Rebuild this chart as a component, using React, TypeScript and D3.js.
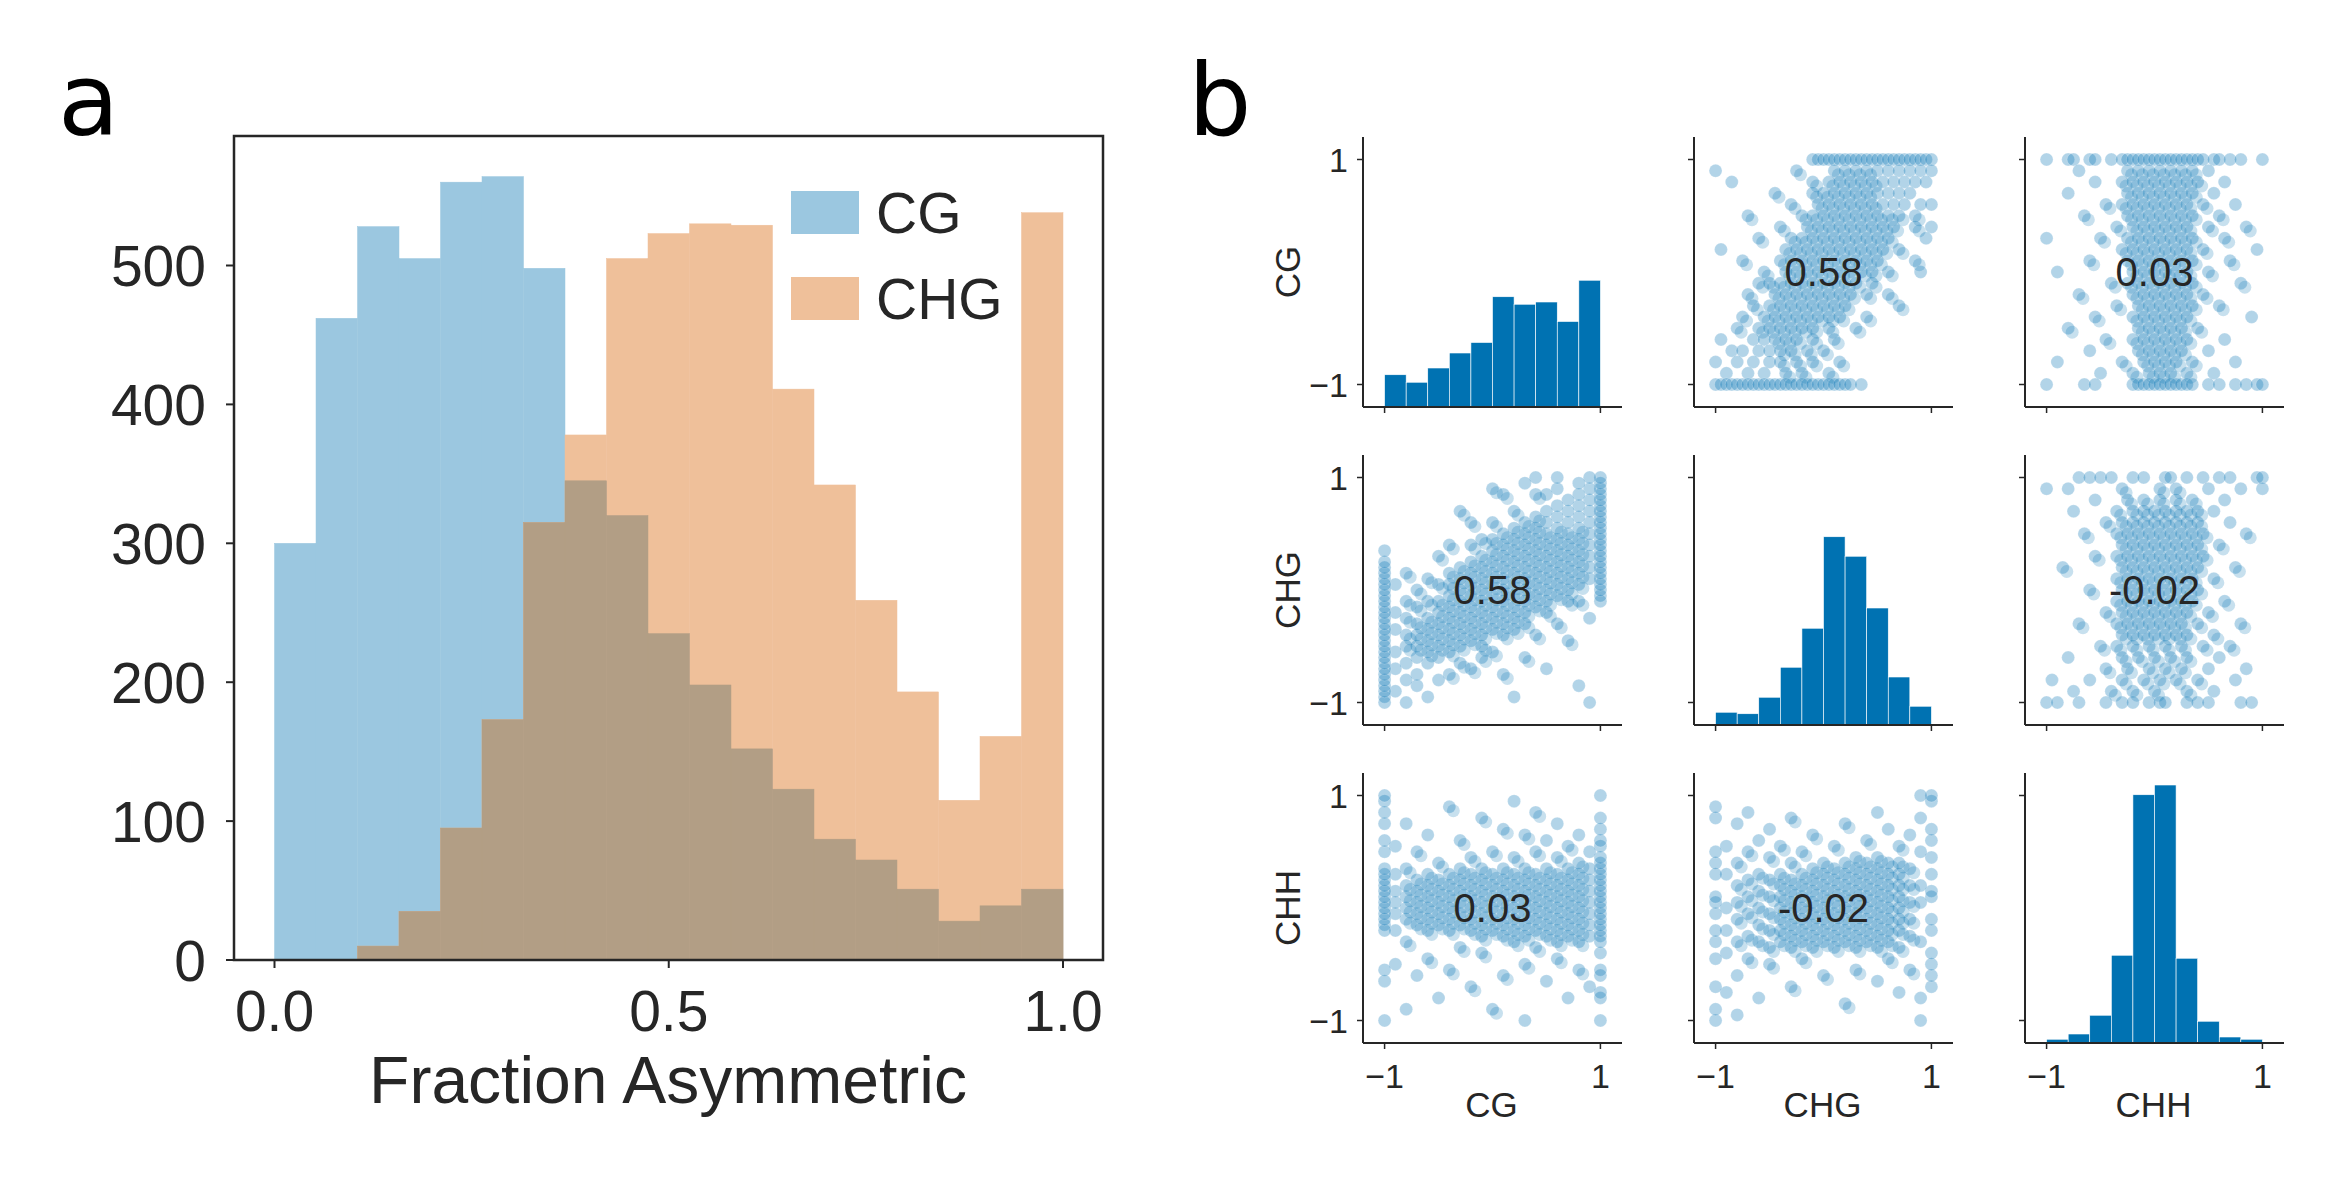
import React from "react";
import * as d3 from "d3";

// Panel a: 19 bins over [0,1]
const cgCounts = [300, 462, 528, 505, 560, 564, 498, 345, 320, 235, 198, 152, 123, 87, 72, 51, 28, 39, 51];
const chgCounts = [0, 0, 10, 35, 95, 173, 315, 378, 505, 523, 530, 529, 411, 342, 259, 193, 115, 161, 538];
const yTicksA = [0, 100, 200, 300, 400, 500];
const xTicksA = [0, 0.5, 1];

// Panel b diagonal histograms (10 bins over [-1,1]), relative counts
const diagCG = [43, 33, 52, 72, 86, 147, 137, 140, 114, 169];
const diagCHG = [17, 15, 37, 77, 129, 251, 225, 156, 64, 25];
const diagCHH = [5, 12, 37, 117, 331, 344, 113, 29, 8, 5];
const vars = ["CG", "CHG", "CHH"];
const corr = [["", "0.58", "0.03"], ["0.58", "", "-0.02"], ["0.03", "-0.02", ""]];

type Row = { y: number; xs: number[] };
// pair CHG (x) vs CG (y)
const pairChgCg: Row[] = [
  { y: 1, xs: [-0.1, -0.05, 0, 0.05, 0.1, 0.15, 0.2, 0.25, 0.3, 0.35, 0.4, 0.45, 0.5, 0.55, 0.6, 0.65, 0.7, 0.75, 0.8, 0.85, 0.9, 0.95, 1] },
  { y: 0.9, xs: [-1, -0.25, 0.1, 0.2, 0.3, 0.4, 0.5, 0.6, 0.7, 0.8, 0.9, 1] },
  { y: 0.8, xs: [-0.85, -0.1, 0.05, 0.15, 0.25, 0.35, 0.45, 0.55, 0.65, 0.75, 0.85, 0.95] },
  { y: 0.7, xs: [-0.45, -0.1, 0, 0.1, 0.2, 0.3, 0.4, 0.5, 0.6, 0.7, 0.8] },
  { y: 0.6, xs: [-0.3, -0.05, 0.05, 0.15, 0.25, 0.35, 0.45, 0.55, 0.65, 0.75, 0.9, 1] },
  { y: 0.5, xs: [-0.7, -0.2, -0.1, 0, 0.1, 0.2, 0.3, 0.4, 0.5, 0.6, 0.7, 0.85] },
  { y: 0.4, xs: [-0.4, -0.15, -0.05, 0.05, 0.15, 0.25, 0.35, 0.45, 0.55, 0.65, 0.85, 1] },
  { y: 0.3, xs: [-0.6, -0.3, -0.2, -0.1, 0, 0.1, 0.2, 0.3, 0.4, 0.5, 0.6, 0.95] },
  { y: 0.2, xs: [-0.95, -0.35, -0.25, -0.15, -0.05, 0.05, 0.15, 0.25, 0.35, 0.45, 0.55, 0.7] },
  { y: 0.1, xs: [-0.75, -0.4, -0.3, -0.2, -0.1, 0, 0.1, 0.2, 0.3, 0.4, 0.5, 0.85] },
  { y: 0, xs: [-0.55, -0.35, -0.25, -0.15, -0.05, 0.05, 0.15, 0.25, 0.35, 0.45, 0.6, 0.9] },
  { y: -0.1, xs: [-0.6, -0.5, -0.4, -0.3, -0.2, -0.1, 0, 0.1, 0.2, 0.3, 0.45] },
  { y: -0.2, xs: [-0.7, -0.45, -0.35, -0.25, -0.15, -0.05, 0.05, 0.15, 0.25, 0.4, 0.6] },
  { y: -0.3, xs: [-0.65, -0.5, -0.4, -0.3, -0.2, -0.1, 0, 0.1, 0.2, 0.7] },
  { y: -0.4, xs: [-0.75, -0.55, -0.45, -0.35, -0.25, -0.15, -0.05, 0.05, 0.15, 0.4] },
  { y: -0.5, xs: [-0.8, -0.6, -0.5, -0.4, -0.3, -0.2, -0.1, 0.05, 0.3] },
  { y: -0.6, xs: [-0.95, -0.65, -0.55, -0.45, -0.35, -0.25, -0.1, 0.1] },
  { y: -0.7, xs: [-0.85, -0.75, -0.6, -0.5, -0.4, -0.3, -0.15, 0] },
  { y: -0.8, xs: [-1, -0.8, -0.65, -0.5, -0.4, -0.25, -0.1, 0.15] },
  { y: -0.9, xs: [-0.9, -0.7, -0.55, -0.35, -0.2, 0.05] },
  { y: -1, xs: [-1, -0.95, -0.9, -0.85, -0.8, -0.75, -0.7, -0.65, -0.6, -0.55, -0.5, -0.45, -0.4, -0.35, -0.3, -0.25, -0.2, -0.15, -0.1, -0.05, 0, 0.05, 0.1, 0.15, 0.2, 0.25, 0.35] },
];
// pair CHH (x) vs CG (y)
const pairChhCg: Row[] = [
  { y: 1, xs: [-1, -0.8, -0.75, -0.6, -0.55, -0.4, -0.3, -0.25, -0.2, -0.15, -0.1, -0.05, 0, 0.05, 0.1, 0.15, 0.2, 0.25, 0.3, 0.35, 0.4, 0.45, 0.55, 0.6, 0.7, 0.8, 1] },
  { y: 0.9, xs: [-0.7, -0.25, -0.15, -0.05, 0.05, 0.15, 0.25, 0.35, 0.5] },
  { y: 0.8, xs: [-0.55, -0.3, -0.2, -0.1, 0, 0.1, 0.2, 0.3, 0.4, 0.65] },
  { y: 0.7, xs: [-0.8, -0.25, -0.15, -0.05, 0.05, 0.15, 0.25, 0.35, 0.55] },
  { y: 0.6, xs: [-0.45, -0.3, -0.2, -0.1, 0, 0.1, 0.2, 0.3, 0.45, 0.75] },
  { y: 0.5, xs: [-0.65, -0.25, -0.15, -0.05, 0.05, 0.15, 0.25, 0.35, 0.6] },
  { y: 0.4, xs: [-0.35, -0.2, -0.1, 0, 0.1, 0.2, 0.3, 0.5, 0.85] },
  { y: 0.3, xs: [-1, -0.5, -0.25, -0.15, -0.05, 0.05, 0.15, 0.25, 0.35, 0.65] },
  { y: 0.2, xs: [-0.3, -0.2, -0.1, 0, 0.1, 0.2, 0.3, 0.45, 0.95] },
  { y: 0.1, xs: [-0.6, -0.25, -0.15, -0.05, 0.05, 0.15, 0.25, 0.35, 0.7] },
  { y: 0, xs: [-0.9, -0.2, -0.1, 0, 0.1, 0.2, 0.3, 0.5] },
  { y: -0.1, xs: [-0.4, -0.25, -0.15, -0.05, 0.05, 0.15, 0.25, 0.35, 0.8] },
  { y: -0.2, xs: [-0.7, -0.2, -0.1, 0, 0.1, 0.2, 0.3, 0.45] },
  { y: -0.3, xs: [-0.35, -0.15, -0.05, 0.05, 0.15, 0.25, 0.35, 0.6] },
  { y: -0.4, xs: [-0.55, -0.2, -0.1, 0, 0.1, 0.2, 0.3, 0.9] },
  { y: -0.5, xs: [-0.8, -0.15, -0.05, 0.05, 0.15, 0.25, 0.4] },
  { y: -0.6, xs: [-0.45, -0.2, -0.1, 0, 0.1, 0.2, 0.3, 0.65] },
  { y: -0.7, xs: [-0.6, -0.15, -0.05, 0.05, 0.15, 0.25, 0.5] },
  { y: -0.8, xs: [-0.9, -0.3, -0.1, 0, 0.1, 0.2, 0.35, 0.75] },
  { y: -0.9, xs: [-0.5, -0.2, -0.05, 0.05, 0.15, 0.3, 0.55] },
  { y: -1, xs: [-1, -0.65, -0.55, -0.2, -0.15, -0.1, -0.05, 0, 0.05, 0.1, 0.15, 0.2, 0.25, 0.3, 0.35, 0.5, 0.6, 0.75, 0.85, 0.95, 1] },
];
// pair CHH (x) vs CHG (y)
const pairChhChg: Row[] = [
  { y: 1, xs: [-0.7, -0.6, -0.5, -0.4, -0.2, -0.1, 0.1, 0.15, 0.3, 0.45, 0.6, 0.7, 0.95, 1] },
  { y: 0.9, xs: [-1, -0.8, -0.3, 0.05, 0.2, 0.5, 0.8, 1] },
  { y: 0.8, xs: [-0.55, -0.25, -0.1, 0.05, 0.2, 0.35, 0.65] },
  { y: 0.7, xs: [-0.75, -0.35, -0.2, -0.1, 0, 0.1, 0.2, 0.3, 0.4, 0.55] },
  { y: 0.6, xs: [-0.45, -0.3, -0.2, -0.1, 0, 0.1, 0.2, 0.3, 0.4, 0.7] },
  { y: 0.5, xs: [-0.65, -0.35, -0.25, -0.15, -0.05, 0.05, 0.15, 0.25, 0.35, 0.45, 0.85] },
  { y: 0.4, xs: [-0.3, -0.2, -0.1, 0, 0.1, 0.2, 0.3, 0.4, 0.6] },
  { y: 0.3, xs: [-0.55, -0.35, -0.25, -0.15, -0.05, 0.05, 0.15, 0.25, 0.35, 0.45] },
  { y: 0.2, xs: [-0.85, -0.3, -0.2, -0.1, 0, 0.1, 0.2, 0.3, 0.4, 0.75] },
  { y: 0.1, xs: [-0.35, -0.25, -0.15, -0.05, 0.05, 0.15, 0.25, 0.35, 0.55] },
  { y: 0, xs: [-0.6, -0.3, -0.2, -0.1, 0, 0.1, 0.2, 0.3, 0.4] },
  { y: -0.1, xs: [-0.35, -0.25, -0.15, -0.05, 0.05, 0.15, 0.25, 0.35, 0.65] },
  { y: -0.2, xs: [-0.45, -0.3, -0.2, -0.1, 0, 0.1, 0.2, 0.3, 0.5] },
  { y: -0.3, xs: [-0.7, -0.35, -0.25, -0.15, -0.05, 0.05, 0.15, 0.25, 0.4, 0.8] },
  { y: -0.4, xs: [-0.3, -0.2, -0.1, 0, 0.1, 0.2, 0.3, 0.55] },
  { y: -0.5, xs: [-0.5, -0.35, -0.2, -0.05, 0.1, 0.25, 0.45, 0.7] },
  { y: -0.6, xs: [-0.8, -0.3, -0.15, 0, 0.15, 0.3, 0.6] },
  { y: -0.7, xs: [-0.45, -0.25, -0.05, 0.1, 0.25, 0.5, 0.85] },
  { y: -0.8, xs: [-0.95, -0.6, -0.3, -0.1, 0.05, 0.2, 0.4, 0.75] },
  { y: -0.9, xs: [-0.75, -0.4, -0.2, 0, 0.3, 0.55] },
  { y: -1, xs: [-1, -0.9, -0.7, -0.45, -0.3, -0.2, -0.05, 0.05, 0.1, 0.3, 0.4, 0.5, 0.8, 0.9] },
];

function flat(rows: Row[]): [number, number][] {
  const out: [number, number][] = [];
  rows.forEach((r) => r.xs.forEach((x) => out.push([x, r.y])));
  return out;
}

const FONT = "'Liberation Sans', Arial, sans-serif";
const DARK = "#262626";
const BLUE = "#0072b2";

function PanelA() {
  const x = d3.scaleLinear().domain([0, 1]).range([274.5, 1063]);
  const y = d3.scaleLinear().domain([0, 500]).range([960, 265.5]);
  const bw = 1 / cgCounts.length;
  const edges = cgCounts.map((_, i) => i * bw);
  return (
    <g>
      <text x={58} y={135} fontSize={100} fontFamily="'DejaVu Sans', sans-serif" fill="#000">a</text>
      {edges.map((e, i) => (
        <rect key={"b" + i} x={x(e)} width={x(e + bw) - x(e)} y={y(cgCounts[i])} height={y(0) - y(cgCounts[i])} fill="#9bc7e0" stroke="#9bc7e0" strokeWidth={0.5} />
      ))}
      {edges.map((e, i) => (
        <rect key={"o" + i} x={x(e)} width={x(e + bw) - x(e)} y={y(chgCounts[i])} height={y(0) - y(chgCounts[i])} fill="#efc09a" stroke="#efc09a" strokeWidth={0.5} />
      ))}
      {edges.map((e, i) => {
        const m = Math.min(cgCounts[i], chgCounts[i]);
        return <rect key={"m" + i} x={x(e)} width={x(e + bw) - x(e)} y={y(m)} height={y(0) - y(m)} fill="#b29e85" stroke="#b29e85" strokeWidth={0.5} />;
      })}
      <rect x={234} y={136} width={869} height={824} fill="none" stroke={DARK} strokeWidth={2.5} />
      {yTicksA.map((t) => (
        <g key={t}>
          <line x1={234} x2={226} y1={y(t)} y2={y(t)} stroke={DARK} strokeWidth={2} />
          <text x={206} y={y(t)} dy="0.36em" textAnchor="end" fontSize={57} fontFamily={FONT} fill={DARK}>{t}</text>
        </g>
      ))}
      {xTicksA.map((t) => (
        <g key={t}>
          <line x1={x(t)} x2={x(t)} y1={960} y2={968} stroke={DARK} strokeWidth={2} />
          <text x={x(t)} y={1031} textAnchor="middle" fontSize={57} fontFamily={FONT} fill={DARK}>{t.toFixed(1)}</text>
        </g>
      ))}
      <text x={668} y={1103} textAnchor="middle" fontSize={66} fontFamily={FONT} fill={DARK}>Fraction Asymmetric</text>
      <rect x={791} y={191} width={68} height={43} fill="#9bc7e0" />
      <text x={876} y={212} dy="0.36em" fontSize={57} fontFamily={FONT} fill={DARK}>CG</text>
      <rect x={791} y={277} width={68} height={43} fill="#efc09a" />
      <text x={876} y={298} dy="0.36em" fontSize={57} fontFamily={FONT} fill={DARK}>CHG</text>
    </g>
  );
}

const colX = [1363, 1694, 2025];
const rowY = [137, 455, 773];
const CW = 259;
const CH = 270;

function Cell({ r, c }: { r: number; c: number }) {
  const x = d3.scaleLinear().domain([-1.2, 1.2]).range([colX[c], colX[c] + CW]);
  const y = d3.scaleLinear().domain([-1.2, 1.2]).range([rowY[r] + CH, rowY[r]]);
  const bottom = rowY[r] + CH;
  let content: React.ReactNode = null;
  if (r === c) {
    const counts = [diagCG, diagCHG, diagCHH][r];
    const hy = d3.scaleLinear().domain([0, 360]).range([bottom, rowY[r]]);
    const edges = d3.range(10).map((i) => -1 + i * 0.2);
    content = edges.map((e, i) => (
      <rect key={i} x={x(e)} width={x(e + 0.2) - x(e)} y={hy(counts[i])} height={bottom - hy(counts[i])} fill={BLUE} stroke="#ffffff" strokeWidth={0.6} />
    ));
  } else {
    const key = [Math.min(r, c), Math.max(r, c)].join("");
    const base = key === "01" ? pairChgCg : key === "02" ? pairChhCg : pairChhChg;
    let pts = flat(base);
    if (r > c) pts = pts.map(([a, b]) => [b, a] as [number, number]);
    content = (
      <g>
        {pts.map(([px, py], i) => (
          <circle key={i} cx={x(px)} cy={y(py)} r={6.5} fill={BLUE} fillOpacity={0.3} stroke="#ffffff" strokeOpacity={0.35} strokeWidth={0.6} />
        ))}
        {pts.map(([px, py], i) =>
          Math.abs(px) < 0.95 && Math.abs(py) < 0.95 && Math.abs(px) < 0.5 || (Math.abs(py) < 0.6 && Math.abs(px) < 0.9) ? (
            <circle key={"d" + i} cx={x(px) + 4} cy={y(py) + 4} r={6.5} fill={BLUE} fillOpacity={0.22} />
          ) : null
        )}
        <text x={colX[c] + CW / 2} y={rowY[r] + CH / 2} dy="0.36em" textAnchor="middle" fontSize={40} fontFamily={FONT} fill={DARK}>{corr[r][c]}</text>
      </g>
    );
  }
  return (
    <g>
      {content}
      <line x1={colX[c]} x2={colX[c]} y1={rowY[r]} y2={bottom} stroke={DARK} strokeWidth={2} />
      <line x1={colX[c]} x2={colX[c] + CW} y1={bottom} y2={bottom} stroke={DARK} strokeWidth={2} />
      {[-1, 1].map((t) => (
        <g key={"y" + t}>
          <line x1={colX[c]} x2={colX[c] - 6} y1={y(t)} y2={y(t)} stroke={DARK} strokeWidth={1.5} />
          {c === 0 && (
            <text x={colX[c] - 15} y={y(t)} dy="0.36em" textAnchor="end" fontSize={34} fontFamily={FONT} fill={DARK}>{t === 1 ? "1" : "\u22121"}</text>
          )}
        </g>
      ))}
      {[-1, 1].map((t) => (
        <g key={"x" + t}>
          <line x1={x(t)} x2={x(t)} y1={bottom} y2={bottom + 6} stroke={DARK} strokeWidth={1.5} />
          {r === 2 && (
            <text x={x(t)} y={bottom + 45} textAnchor="middle" fontSize={34} fontFamily={FONT} fill={DARK}>{t === 1 ? "1" : "\u22121"}</text>
          )}
        </g>
      ))}
      {r === 2 && (
        <text x={colX[c] + CW / 2 - 1} y={1117} textAnchor="middle" fontSize={35} fontFamily={FONT} fill={DARK}>{vars[c]}</text>
      )}
      {c === 0 && (
        <text transform={`translate(1300,${rowY[r] + 135}) rotate(-90)`} textAnchor="middle" fontSize={35} fontFamily={FONT} fill={DARK}>{vars[r]}</text>
      )}
    </g>
  );
}

function PanelB() {
  const cells = [];
  for (let r = 0; r < 3; r++) for (let c = 0; c < 3; c++) cells.push(<Cell key={`${r}${c}`} r={r} c={c} />);
  return (
    <g>
      <text x={1188} y={135} fontSize={100} fontFamily="'DejaVu Sans', sans-serif" fill="#000">b</text>
      {cells}
    </g>
  );
}

export default function App() {
  return (
    <svg width={2339} height={1198} style={{ position: "absolute", left: 0, top: 0, background: "#fff" }}>
      <rect width={2339} height={1198} fill="#fff" />
      <PanelA />
      <PanelB />
    </svg>
  );
}
